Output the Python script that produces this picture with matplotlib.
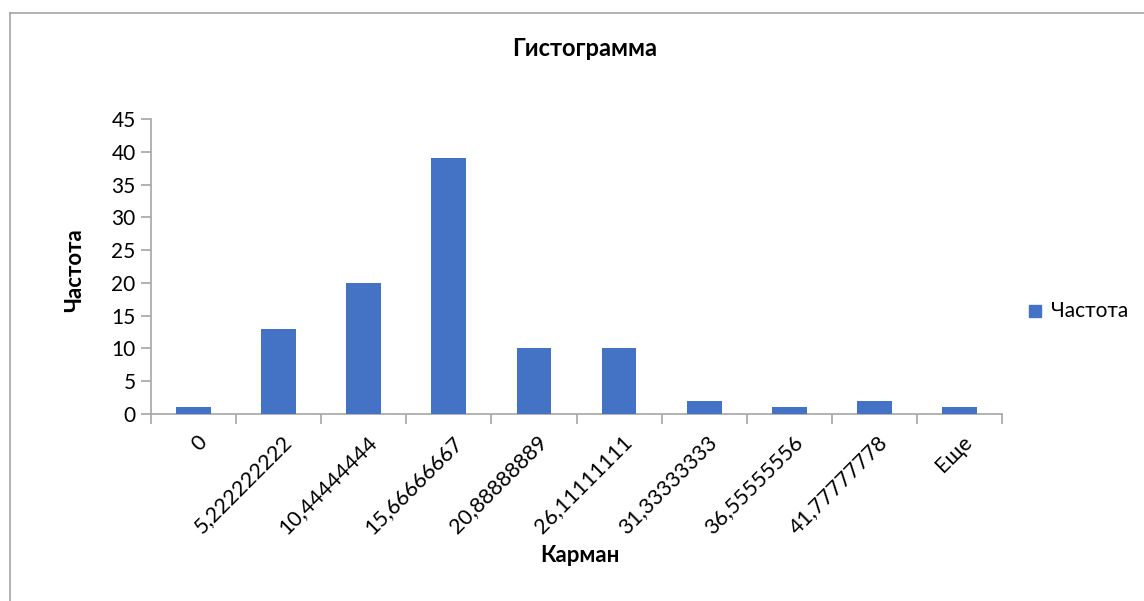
import matplotlib
matplotlib.use("Agg")
import matplotlib.pyplot as plt
from matplotlib.patches import Rectangle
from matplotlib.lines import Line2D

categories = ["0", "5,222222222", "10,44444444", "15,66666667", "20,88888889",
              "26,11111111", "31,33333333", "36,55555556", "41,77777778", "Еще"]
values = [1, 13, 20, 39, 10, 10, 2, 1, 2, 1]
yticks = [0, 5, 10, 15, 20, 25, 30, 35, 40, 45]

plt.rcParams['font.family'] = ['Lato', 'DejaVu Sans']
W, H = 1144, 601
fig = plt.figure(figsize=(W / 100, H / 100), dpi=100)
fig.patch.set_facecolor('white')

# outer border (chart area)
fig.add_artist(Line2D([10 / W, 10 / W], [1 - 13 / H, -0.1], transform=fig.transFigure,
                      color='#A6A6A6', lw=1.2))
fig.add_artist(Line2D([10 / W, 1.1], [1 - 13 / H, 1 - 13 / H], transform=fig.transFigure,
                      color='#A6A6A6', lw=1.2))

ax = fig.add_axes([151 / W, 1 - 414 / H, (1002 - 151) / W, (414 - 119) / H])
x = list(range(len(categories)))
bars = ax.bar(x, values, width=0.41, color='#4472C4', label='Частота', zorder=3)
ax.set_xlim(-0.5, len(categories) - 0.5)
ax.set_ylim(0, 45)
ax.set_yticks(yticks)
ax.set_yticklabels([str(v) for v in yticks], fontsize=15)

for s in ['top', 'right']:
    ax.spines[s].set_visible(False)
for s in ['left', 'bottom']:
    ax.spines[s].set_color('#A6A6A6')
    ax.spines[s].set_linewidth(1.2)

ax.tick_params(axis='y', length=7, width=1.2, color='#A6A6A6', pad=4)
# x ticks at category boundaries
ax.set_xticks([i - 0.5 for i in range(len(categories) + 1)])
ax.set_xticklabels([''] * (len(categories) + 1))
ax.tick_params(axis='x', length=7, width=1.2, color='#A6A6A6')

for i, lab in enumerate(categories):
    ax.annotate(lab, xy=(i, 0), xycoords=('data', 'axes fraction'),
                xytext=(2, -13), textcoords='offset points',
                rotation=45, ha='right', va='top', rotation_mode='anchor',
                fontsize=15.5, color='black')

fig.text(585 / W, 1 - 48 / H, 'Гистограмма', ha='center', va='center',
         fontsize=17, fontweight='bold')
fig.text(75 / W, 1 - 270 / H, 'Частота', ha='center', va='center',
         rotation=90, fontsize=16, fontweight='bold')
fig.text(580 / W, 1 - 555 / H, 'Карман', ha='center', va='center',
         fontsize=16, fontweight='bold')

# legend
fig.add_artist(Rectangle((1029 / W, 1 - 317 / H), 12 / W, 12 / H,
                         transform=fig.transFigure, color='#4472C4'))
fig.text(1051 / W, 1 - 311 / H, 'Частота', ha='left', va='center', fontsize=15)

fig.savefig('out.png', dpi=100, facecolor='white')
